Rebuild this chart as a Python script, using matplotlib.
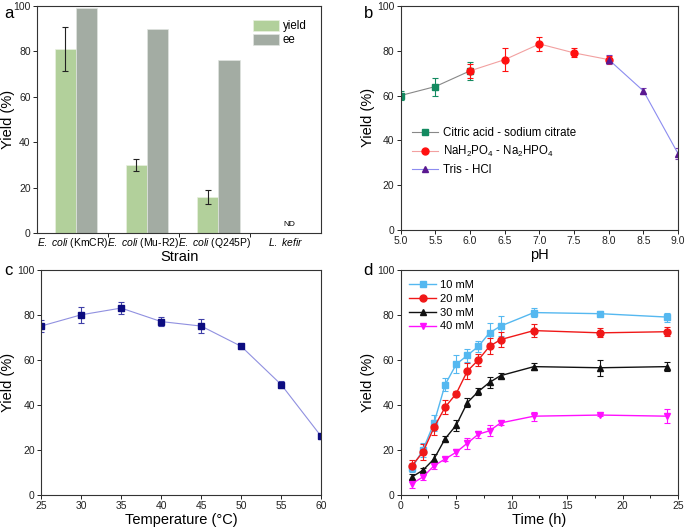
import matplotlib
matplotlib.use('Agg')
import matplotlib.pyplot as plt
import numpy as np

plt.rcParams['font.family'] = ['Liberation Sans', 'DejaVu Sans']
plt.rcParams['mathtext.fontset'] = 'custom'
plt.rcParams['mathtext.rm'] = 'Liberation Sans'
plt.rcParams['mathtext.it'] = 'Liberation Sans:italic'
plt.rcParams['font.size'] = 7.5

# panel a
strains = ['$\\it{E.\\ coli}$ (KmCR)', '$\\it{E.\\ coli}$ (Mu-R2)',
           '$\\it{E.\\ coli}$ (Q245P)', '$\\it{L.\\ kefir}$']
yield_a = [81, 30, 16, 0]
yield_a_err = [9.5, 2.5, 3, 0]
ee_a = [99, 90, 76, 0]

# panel b
ph_citric = [5.0, 5.5, 6.0]
y_citric = [60, 64, 71]
e_citric = [2, 4, 4]
ph_phos = [6.0, 6.5, 7.0, 7.5, 8.0]
y_phos = [71, 76, 83, 79, 76]
e_phos = [3, 5, 3, 2, 1.5]
ph_tris = [8.0, 8.5, 9.0]
y_tris = [76, 62, 34]
e_tris = [2, 1.5, 2.5]

# panel c
temps = [25, 30, 35, 40, 45, 50, 55, 60]
y_temp = [75, 80, 83, 77, 75, 66, 49, 26]
e_temp = [2.5, 3.5, 2.5, 2, 3, 1, 1.5, 1]

# panel d
times = [1, 2, 3, 4, 5, 6, 7, 8, 9, 12, 18, 24]
y10 = [12, 20, 32, 49, 58, 62, 66, 72, 75, 81, 80.5, 79]
e10 = [2, 3, 3.5, 3, 4, 3, 2.5, 4.5, 4.5, 2, 1, 2]
y20 = [13, 19, 30, 39, 45, 55, 60, 66, 69, 73, 72, 72.5]
e20 = [2.5, 3.5, 3.5, 3, 1, 3.5, 2.5, 3.5, 3.5, 3, 2, 2]
y30 = [8, 11, 16, 25, 31, 41, 46, 50, 53, 57, 56.5, 57]
e30 = [1.5, 1, 2, 1, 2.5, 2, 1.5, 2.5, 1, 1.5, 3.5, 2]
y40 = [5, 8, 13, 16, 19, 23, 27, 28.5, 32, 35, 35.5, 35]
e40 = [2, 1.5, 1.5, 1, 1.5, 2.5, 1.5, 2.5, 1, 2, 0.5, 3]

fig = plt.figure(figsize=(6.85, 5.3), dpi=100)
ax_a = fig.add_axes([0.054, 0.560, 0.415, 0.429])
ax_b = fig.add_axes([0.585, 0.566, 0.405, 0.423])
ax_c = fig.add_axes([0.060, 0.066, 0.409, 0.425])
ax_d = fig.add_axes([0.585, 0.066, 0.405, 0.425])


def style(ax, lx):
    for s in ax.spines.values():
        s.set_color('#333333')
        s.set_linewidth(0.8)
    ax.tick_params(direction='out', length=3, width=0.7, labelsize=7.5,
                   colors='#222222', pad=1.5)
    ax.set_ylim(0, 100)
    ax.set_yticks([0, 20, 40, 60, 80, 100])
    ax.set_ylabel('Yield (%)', fontsize=10.5)
    ax.yaxis.set_label_coords(lx, 0.5)


# a
x = np.arange(len(strains))
style(ax_a, -0.077)
ax_a.bar(x - 0.10, yield_a, 0.30, color='#b2d09b', label='yield',
         edgecolor='#e8f0e0', linewidth=0.5)
ax_a.bar(x + 0.20, ee_a, 0.30, color='#a3aca3', label='ee',
         edgecolor='#e0e4e0', linewidth=0.5)
ax_a.errorbar(x[:3] - 0.10, yield_a[:3], yerr=yield_a_err[:3], fmt='none',
              ecolor='#222222', elinewidth=0.8, capsize=2.5, capthick=0.8)
ax_a.text(x[3] + 0.05, 4, 'ND', fontsize=6, ha='center', va='center')
ax_a.set_xlim(-0.5, 3.5)
ax_a.set_xticks([0.5, 1.5, 2.5])
ax_a.set_xticklabels([])
ax_a.set_xticks(x, minor=True)
ax_a.set_xticklabels(strains, minor=True, fontsize=7.5)
ax_a.tick_params(axis='x', which='minor', length=0, pad=2)
ax_a.set_xlabel('Strain', fontsize=10.5, labelpad=0)
ax_a.legend(loc='upper right', bbox_to_anchor=(0.985, 0.985), frameon=False,
            fontsize=8.3, handlelength=2.3, handleheight=1.1,
            labelspacing=0.15, handletextpad=0.3)

# b
style(ax_b, -0.094)
ebk = dict(elinewidth=0.8, capsize=2.5, capthick=0.8, markersize=5)
handles, labels = [], []
for px, py, pe, lc, mc, ec, mk, lab in [
        (ph_citric, y_citric, e_citric, '#888888', '#138a60', '#138a60', 's',
         'Citric acid - sodium citrate'),
        (ph_phos, y_phos, e_phos, '#f2a0a0', '#ff1010', '#ff1010', 'o',
         'NaH$_2$PO$_4$ - Na$_2$HPO$_4$'),
        (ph_tris, y_tris, e_tris, '#8c8cf0', '#5a1890', '#7a3ab0', '^',
         'Tris - HCl')]:
    c = ax_b.errorbar(px, py, yerr=pe, color=lc, lw=0.8, marker=mk, mfc=mc,
                      mec=mc, ecolor=ec, **ebk)
    handles.append(c.lines[0])
    labels.append(lab)
ax_b.set_xlim(5.0, 9.0)
ax_b.set_xticks(np.arange(5.0, 9.01, 0.5))
ax_b.set_xticklabels(['%.1f' % v for v in np.arange(5.0, 9.01, 0.5)])
ax_b.set_xlabel('pH', fontsize=10.5, labelpad=1)
ax_b.legend(handles, labels, loc='center left', bbox_to_anchor=(0.005, 0.35),
            frameon=False, fontsize=8.3, handlelength=2.2, labelspacing=0.45,
            handletextpad=0.45)

# c
style(ax_c, -0.093)
ax_c.errorbar(temps, y_temp, yerr=e_temp, color='#9090e0', lw=0.8,
              marker='s', mfc='#0c0c80', mec='#0c0c80', ecolor='#4040a8',
              **ebk)
ax_c.set_xlim(25, 60)
ax_c.set_xticks(temps)
ax_c.set_xlabel('Temperature (\u00b0C)', fontsize=10.5, labelpad=1)

# d
style(ax_d, -0.094)
series = [
    (y10, e10, '#55b8f0', 's', '10 mM'),
    (y20, e20, '#f01818', 'o', '20 mM'),
    (y30, e30, '#111111', '^', '30 mM'),
    (y40, e40, '#ff10ff', 'v', '40 mM'),
]
handles, labels = [], []
for yy, ee, col, mk, lab in series:
    c = ax_d.errorbar(times, yy, yerr=ee, color=col, lw=1.0, marker=mk,
                      mfc=col, mec=col, ecolor=col, **ebk)
    handles.append(c.lines[0])
    labels.append(lab)
ax_d.set_xlim(0, 25)
ax_d.set_xticks([0, 5, 10, 15, 20, 25])
ax_d.set_xticks(np.arange(2.5, 25, 5), minor=True)
ax_d.tick_params(axis='x', which='minor', direction='out', length=2,
                 width=0.6)
ax_d.set_xlabel('Time (h)', fontsize=10.5, labelpad=1)
ax_d.legend(handles, labels, loc='upper left', bbox_to_anchor=(-0.005, 1.0),
            frameon=False, fontsize=8, handlelength=2.4, labelspacing=0.35,
            handletextpad=0.4)

fig.text(0.006, 0.966, 'a', fontsize=12)
fig.text(0.531, 0.966, 'b', fontsize=12)
fig.text(0.006, 0.481, 'c', fontsize=12)
fig.text(0.531, 0.481, 'd', fontsize=12)

fig.savefig('out.png', dpi=100)
